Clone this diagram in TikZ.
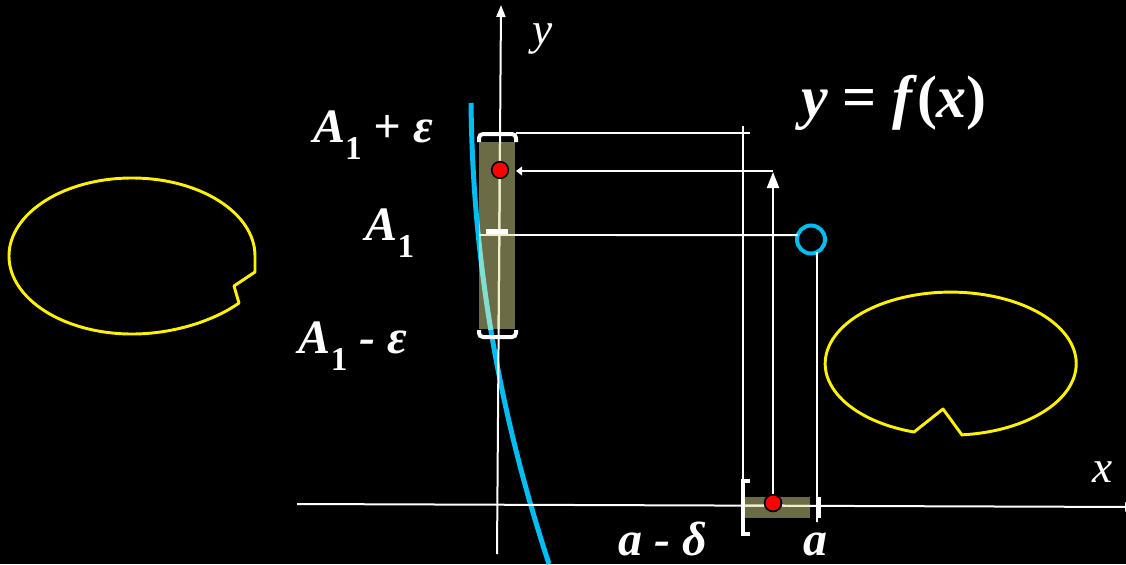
\documentclass[tikz,border=0pt]{standalone}
\usepackage{fontspec}
\setmainfont{Liberation Serif}
\usetikzlibrary{arrows.meta,calc}
\definecolor{olivebar}{HTML}{6B6B45}
\definecolor{cyanc}{HTML}{00BEF2}
\definecolor{tealc}{HTML}{7FE0D2}
\definecolor{creamc}{HTML}{F2F0C8}
\newcommand\sbx[1]{\raisebox{-0.37em}{\fontsize{25}{25}\selectfont\upshape #1}}
\begin{document}
\begin{tikzpicture}[x=0.75pt,y=-0.75pt,
  guide/.style={draw=white,line width=1.4pt},
  axisline/.style={draw=white,line width=1.5pt},
  brk/.style={draw=white,line width=3pt,rounded corners=3pt},
  blob/.style={draw=yellow,line width=2.2pt,line join=round},
  curvestyle/.style={line width=3.75pt},
  dot/.style={circle,fill=red,draw=black,line width=1.2pt,minimum size=12.5pt,inner sep=0pt},
  lab/.style={text=white,inner sep=0pt,anchor=base,font=\fontsize{36}{40}\selectfont\bfseries\itshape},
  axlab/.style={text=white,inner sep=0pt,anchor=base,font=\fontsize{34}{38}\selectfont\itshape},
]
\useasboundingbox (0,0) rectangle (1126,564);
\fill[black] (0,0) rectangle (1126,564);
\clip (0,0) rectangle (1126,564);

% yellow blobs
\draw[blob] (255,272) -- (255,256) .. controls (255,213) and (200,178) .. (132,178)
  .. controls (64,178) and (9,213) .. (9,256)
  .. controls (9,299) and (64,334) .. (132,334)
  .. controls (175,334) and (215,320) .. (239,303) -- (234,286) -- cycle;
\draw[blob] (962,435) -- (943,409) -- (914,432)
  arc[start angle=107,end angle=445,x radius=125.5,y radius=71.5] -- cycle;

% cyan curve
\draw[cyanc,curvestyle] (471,103) .. controls (473,280) and (505,430) .. (549,564);

% olive bars
\fill[olivebar] (479,142) rectangle (515,329);
\fill[olivebar] (745,497) rectangle (810,518);
\begin{scope}
  \clip (479,142) rectangle (515,329);
  \draw[tealc,curvestyle] (471,103) .. controls (473,280) and (505,430) .. (549,564);
\end{scope}

% axes
\coordinate (ybot) at (497,554);
\coordinate (ytop) at (501,5);
\coordinate (xleft) at (297,504);
\coordinate (xright) at (1137,507);
\draw[axisline,-{Triangle[length=9pt,width=6.75pt]}] (ybot) -- (ytop);
\draw[axisline,-{Triangle[length=9pt,width=6.75pt]}] (xleft) -- (xright);
\begin{scope}
  \clip (479,142) rectangle (515,329) (745,497) rectangle (810,518);
  \draw[creamc,line width=1.5pt] (ybot) -- (ytop);
  \draw[creamc,line width=1.5pt] (xleft) -- (xright);
\end{scope}

% A1 level
\draw[creamc,line width=1.4pt] (479,235) -- (515,235);
\fill[white] (486,229) rectangle (508,234);

% brackets on the y-interval
\draw[brk] (479,142) -- (479,134) -- (516,134) -- (516,142);
\draw[brk] (479,330) -- (479,337) -- (516,337) -- (516,330);

% bracket on the x-interval and tick at a
\draw[white,line width=3pt] (750,481) -- (743,481) -- (743,534) -- (750,534);
\draw[white,line width=3.5pt] (819,497) -- (819,518);

% guide lines
\coordinate (tb) at (516,133);
\coordinate (tbend) at (750,133);
\draw[guide] (tb) -- (tbend);
\coordinate (vtop) at (743,126);
\coordinate (vbot) at (743,481);
\draw[guide] (vtop) -- (vbot);

% hole (excluded point)
\node[circle,draw=cyanc,line width=3pt,minimum size=21pt,inner sep=0pt,outer sep=0pt] (hole) at (811,239.5) {};
\coordinate (a1) at (515,235);
\draw[guide] (a1) -- (hole.162);
\coordinate (atick) at (817,522);
\draw[guide] (hole.-65) -- (atick);

% points and arrows
\node[dot] (p2) at (773,503) {};
\coordinate (vtip) at (773,172);
\coordinate (corner) at (773,171);
\coordinate (p1tip) at (516,171);
\draw[guide,-{Triangle[length=12pt,width=9pt]}] (p2) -- (vtip);
\draw[guide,-{Triangle[length=4.5pt,width=6.5pt]}] (corner) -- (p1tip);
\node[dot] (p1) at (500,170) {};
\node[dot] at (773,503) {};

% labels
\node[lab] (t1) at (373,142) {A\sbx{1} + ε};
\node[lab] (t2) at (390,240) {A\sbx{1}};
\node[lab] (t3) at (353,353) {A\sbx{1} - ε};
\node[lab] (t4) at (663,555) {a - δ};
\node[lab] (t5) at (815,555) {a};
\node[lab,font=\fontsize{45}{50}\selectfont\bfseries] (t6) at (894,117) {\textit{y} = \textit{f}(\textit{x})};
\node[axlab] (ly) at (543,44) {y};
\node[axlab] (lx) at (1103,482) {x};
\end{tikzpicture}
\end{document}
